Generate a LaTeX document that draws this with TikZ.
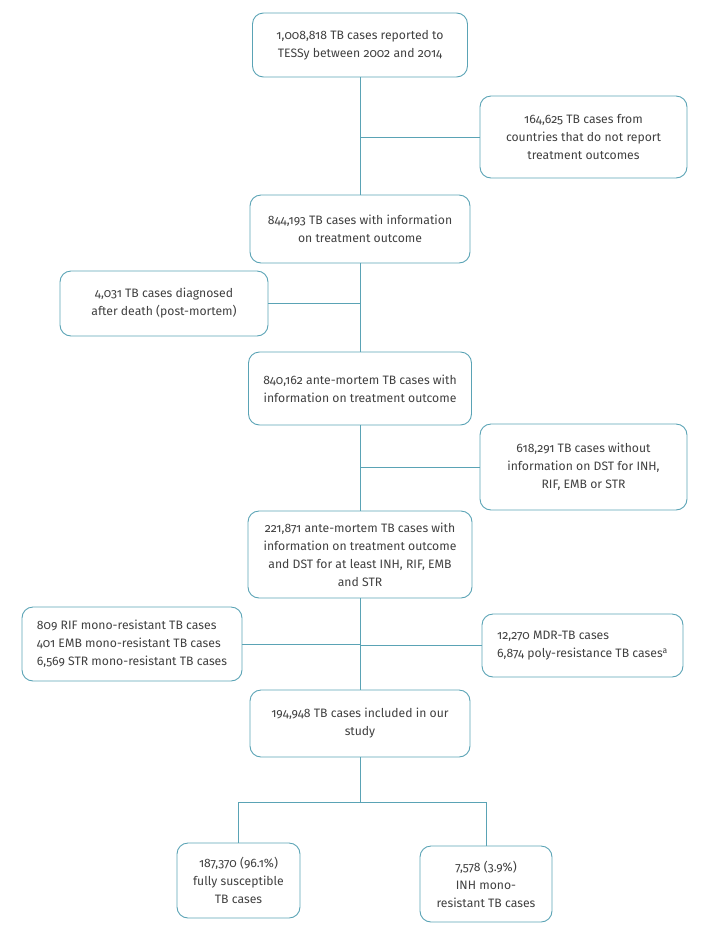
\documentclass[tikz,border=0pt]{standalone}
\usepackage{fontspec}
\setmainfont{Fira Sans}[Numbers=OldStyle]
\begin{document}
\begin{tikzpicture}[x=1pt,y=-1pt,
  box/.style={draw=boxcol, line width=0.9pt, rounded corners=11pt, inner sep=2pt,
    align=center, text=textcol, font=\fontsize{12.2}{18}\selectfont},
  conn/.style={draw=boxcol, line width=0.9pt}]
\definecolor{boxcol}{HTML}{5AA3B5}
\definecolor{textcol}{HTML}{404040}
\useasboundingbox (0,0) rectangle (710,935);
\node[box, minimum width=215pt, minimum height=64pt] (b1) at (360,45) {1,008,818 TB cases reported to\\TESSy between 2002 and 2014};
\node[box, minimum width=207pt, minimum height=82pt] (b2) at (583.5,137) {164,625 TB cases from\\countries that do not report\\treatment outcomes};
\node[box, minimum width=220pt, minimum height=68pt] (b3) at (360,229) {844,193 TB cases with information\\on treatment outcome};
\node[box, minimum width=208pt, minimum height=65pt] (b4) at (164,303.5) {4,031 TB cases diagnosed\\after death (post-mortem)};
\node[box, minimum width=223pt, minimum height=73pt] (b5) at (360,388.5) {840,162 ante-mortem TB cases with\\information on treatment outcome};
\node[box, minimum width=207pt, minimum height=86pt] (b6) at (583.5,467) {618,291 TB cases without\\information on DST for INH,\\RIF, EMB or STR};
\node[box, minimum width=224pt, minimum height=87pt] (b7) at (360,554.5) {221,871 ante-mortem TB cases with\\information on treatment outcome\\and DST for at least INH, RIF, EMB\\and STR};
\node[box, align=left, minimum width=220pt, minimum height=74pt] (b8) at (132,644) {809 RIF mono-resistant TB cases\\401 EMB mono-resistant TB cases\\6,569 STR mono-resistant TB cases};
\node[box, align=left, minimum width=201pt, minimum height=63pt] (b9) at (582.5,645.5) {12,270 MDR-TB cases\\6,874 poly-resistance TB cases\textsuperscript{a}};
\node[box, minimum width=220pt, minimum height=67pt] (b10) at (360,723.5) {194,948 TB cases included in our\\study};
\node[box, minimum width=123pt, minimum height=75pt] (b11) at (238.5,880.5) {187,370 (96.1\%)\\fully susceptible\\TB cases};
\node[box, minimum width=132pt, minimum height=76pt] (b12) at (486,884) {7,578 (3.9\%)\\INH mono-\\resistant TB cases};
\draw[conn] (b1.south) -- (b3.north);
\draw[conn] (b3.south) -- (b5.north);
\draw[conn] (b5.south) -- (b7.north);
\draw[conn] (b7.south) -- (b10.north);
\draw[conn] (b2.west) -- (b2.west -| b1.south);
\draw[conn] (b4.east) -- (b4.east -| b3.south);
\draw[conn] (b6.west) -- (b6.west -| b5.south);
\draw[conn] (b8.east) -- (b8.east -| b7.south);
\draw[conn] (b9.west) -- (b9.west -| b7.south);
\draw[conn] (b10.south) -- (b10.south |- 0,802) coordinate (sp);
\draw[conn] (b11.north) -- (b11.north |- sp) -- (b12.north |- sp) -- (b12.north);
\end{tikzpicture}
\end{document}
